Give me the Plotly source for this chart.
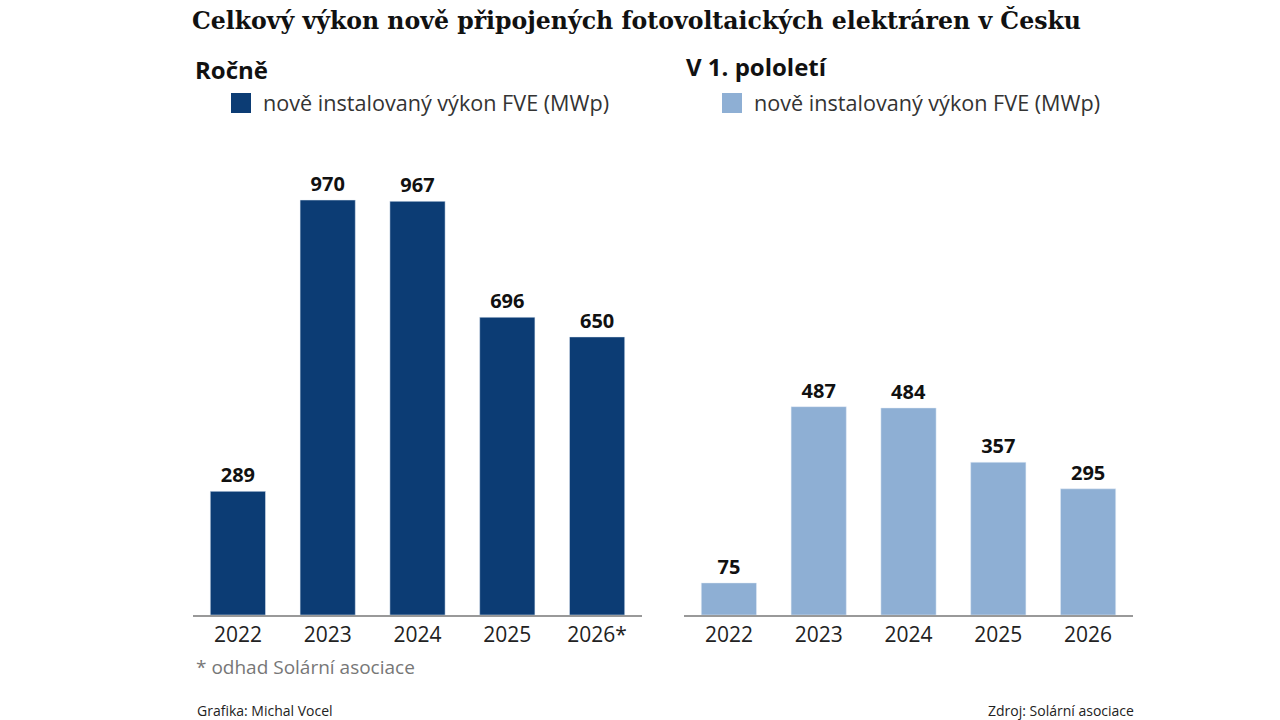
import plotly.graph_objects as go
from plotly.subplots import make_subplots

years = ["2022", "2023", "2024", "2025", "2026"]
years_left_labels = ["2022", "2023", "2024", "2025", "2026*"]
annual = [289, 970, 967, 696, 650]
first_half = [75, 487, 484, 357, 295]

title = "Celkový výkon nově připojených fotovoltaických elektráren v Česku"
sub_left = "Ročně"
sub_right = "V 1. pololetí"
legend_text = "nově instalovaný výkon FVE (MWp)"
footnote = "* odhad Solární asociace"
credit = "Grafika: Michal Vocel"
source = "Zdroj: Solární asociace"

dark = "#0c3c74"
light = "#8eafd4"
sans = "Open Sans"

fig = make_subplots(rows=1, cols=2)

fig.add_trace(go.Bar(x=years, y=annual, marker_color=dark, showlegend=False,
                     text=annual, textposition="outside", cliponaxis=False,
                     textfont=dict(family=sans, size=20, color="#111", weight="bold")), 1, 1)
fig.add_trace(go.Bar(x=years, y=first_half, marker_color=light, showlegend=False,
                     text=first_half, textposition="outside", cliponaxis=False,
                     textfont=dict(family=sans, size=20, color="#111", weight="bold")), 1, 2)

W, H = 1280, 720
ydom = [1 - 615 / H, 1 - 187.2 / H]
fig.update_layout(
    width=W, height=H, margin=dict(l=0, r=0, t=0, b=0),
    plot_bgcolor="white", paper_bgcolor="white", bargap=0.385,
    xaxis=dict(domain=[193 / W, 642 / W], tickvals=years, ticktext=years_left_labels,
               showline=True, linecolor="#999", linewidth=1.5, ticks="",
               tickfont=dict(family=sans, size=21, color="#222")),
    xaxis2=dict(domain=[684 / W, 1133 / W], showline=True, linecolor="#999", linewidth=1.5, ticks="",
                tickfont=dict(family=sans, size=21, color="#222")),
    yaxis=dict(domain=ydom, range=[0, 1000], visible=False),
    yaxis2=dict(domain=ydom, range=[0, 1000], visible=False),
)

def ann(x, y, text, size, color="#111", family=sans, bold=False, xanchor="left"):
    fig.add_annotation(x=x / W, y=1 - y / H, xref="paper", yref="paper", text=text,
                       showarrow=False, xanchor=xanchor, yanchor="middle",
                       font=dict(family=family, size=size, color=color, weight="bold" if bold else "normal"))

ann(190, 20, title, 23.6, family="DejaVu Serif", bold=True)
ann(193, 70, sub_left, 24, bold=True)
ann(684, 66, sub_right, 24, bold=True)
for x0, col in [(231, dark), (722, light)]:
    fig.add_shape(type="rect", xref="paper", yref="paper", x0=x0 / W, x1=(x0 + 20) / W,
                  y0=1 - 113 / H, y1=1 - 93 / H, fillcolor=col, line_width=0)
    ann(x0 + 30, 103, legend_text, 21.6, color="#333")
ann(194, 667, footnote, 19, color="#777")
ann(195, 710, credit, 14, color="#222")
ann(1136, 710, source, 14, color="#222", xanchor="right")

fig.write_html("out.html")
